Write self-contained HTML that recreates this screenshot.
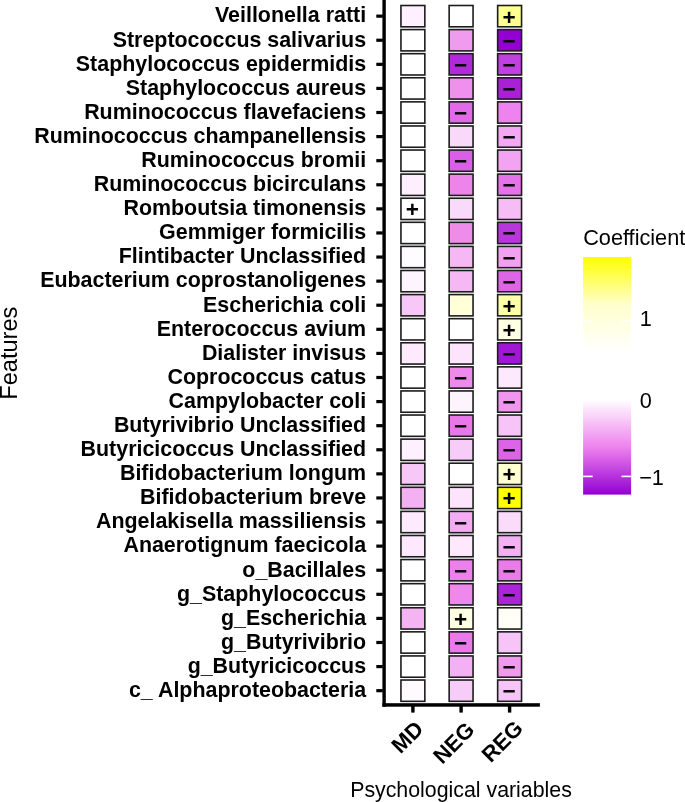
<!DOCTYPE html>
<html lang="en"><head><meta charset="utf-8"><title>Coefficient heatmap</title>
<style>html,body{margin:0;padding:0;background:#fff;overflow:hidden}svg{display:block}text{font-family:"Liberation Sans",Arial,Helvetica,sans-serif;fill:#000}.b{font-weight:bold}</style></head><body>
<svg width="685" height="802" viewBox="0 0 685 802">
<defs><linearGradient id="lg" x1="0" y1="0" x2="0" y2="1">
<stop offset="0" stop-color="#FFFF00"/>
<stop offset="0.2" stop-color="#FFFFCC"/>
<stop offset="0.4" stop-color="#FFFFFF"/>
<stop offset="0.6" stop-color="#FFFFFF"/>
<stop offset="0.8" stop-color="#EE82EE"/>
<stop offset="1" stop-color="#9400D3"/>
</linearGradient></defs>
<rect width="685" height="802" fill="#fff"/>
<g stroke="#1c1c1c" stroke-width="1.6">
<rect x="400.95" y="5.50" width="23.90" height="21.30" fill="#FEF0FE"/>
<rect x="449.15" y="5.50" width="23.90" height="21.30" fill="#FFFFFF"/>
<rect x="497.65" y="5.50" width="23.90" height="21.30" fill="#FFFF90"/>
<rect x="400.95" y="29.59" width="23.90" height="21.30" fill="#FFFFFF"/>
<rect x="449.15" y="29.59" width="23.90" height="21.30" fill="#F09AF0"/>
<rect x="497.65" y="29.59" width="23.90" height="21.30" fill="#9400D3"/>
<rect x="400.95" y="53.68" width="23.90" height="21.30" fill="#FFFFFF"/>
<rect x="449.15" y="53.68" width="23.90" height="21.30" fill="#B02ADB"/>
<rect x="497.65" y="53.68" width="23.90" height="21.30" fill="#C040E0"/>
<rect x="400.95" y="77.77" width="23.90" height="21.30" fill="#FFFFFF"/>
<rect x="449.15" y="77.77" width="23.90" height="21.30" fill="#F090EE"/>
<rect x="497.65" y="77.77" width="23.90" height="21.30" fill="#AA20D8"/>
<rect x="400.95" y="101.86" width="23.90" height="21.30" fill="#FFFFFF"/>
<rect x="449.15" y="101.86" width="23.90" height="21.30" fill="#E06AE8"/>
<rect x="497.65" y="101.86" width="23.90" height="21.30" fill="#EE82EE"/>
<rect x="400.95" y="125.95" width="23.90" height="21.30" fill="#FFFFFF"/>
<rect x="449.15" y="125.95" width="23.90" height="21.30" fill="#F9D8F9"/>
<rect x="497.65" y="125.95" width="23.90" height="21.30" fill="#F4A8F4"/>
<rect x="400.95" y="150.04" width="23.90" height="21.30" fill="#FFFFFF"/>
<rect x="449.15" y="150.04" width="23.90" height="21.30" fill="#D960E6"/>
<rect x="497.65" y="150.04" width="23.90" height="21.30" fill="#F2A4F2"/>
<rect x="400.95" y="174.13" width="23.90" height="21.30" fill="#FDEFFD"/>
<rect x="449.15" y="174.13" width="23.90" height="21.30" fill="#EC84EC"/>
<rect x="497.65" y="174.13" width="23.90" height="21.30" fill="#E672EA"/>
<rect x="400.95" y="198.22" width="23.90" height="21.30" fill="#FFFFFF"/>
<rect x="449.15" y="198.22" width="23.90" height="21.30" fill="#FADAFA"/>
<rect x="497.65" y="198.22" width="23.90" height="21.30" fill="#F5BCF5"/>
<rect x="400.95" y="222.31" width="23.90" height="21.30" fill="#FFFFFF"/>
<rect x="449.15" y="222.31" width="23.90" height="21.30" fill="#EE8CEC"/>
<rect x="497.65" y="222.31" width="23.90" height="21.30" fill="#B836DC"/>
<rect x="400.95" y="246.40" width="23.90" height="21.30" fill="#FEFCFE"/>
<rect x="449.15" y="246.40" width="23.90" height="21.30" fill="#F5B8F5"/>
<rect x="497.65" y="246.40" width="23.90" height="21.30" fill="#F2A0F0"/>
<rect x="400.95" y="270.49" width="23.90" height="21.30" fill="#FEF4FE"/>
<rect x="449.15" y="270.49" width="23.90" height="21.30" fill="#F5B8F5"/>
<rect x="497.65" y="270.49" width="23.90" height="21.30" fill="#DD66E6"/>
<rect x="400.95" y="294.58" width="23.90" height="21.30" fill="#F7C8F7"/>
<rect x="449.15" y="294.58" width="23.90" height="21.30" fill="#FFFFD8"/>
<rect x="497.65" y="294.58" width="23.90" height="21.30" fill="#FFFFA8"/>
<rect x="400.95" y="318.67" width="23.90" height="21.30" fill="#FFFFFF"/>
<rect x="449.15" y="318.67" width="23.90" height="21.30" fill="#FFFFFF"/>
<rect x="497.65" y="318.67" width="23.90" height="21.30" fill="#FFFFE4"/>
<rect x="400.95" y="342.76" width="23.90" height="21.30" fill="#FDEAFD"/>
<rect x="449.15" y="342.76" width="23.90" height="21.30" fill="#FCE4FC"/>
<rect x="497.65" y="342.76" width="23.90" height="21.30" fill="#A018D6"/>
<rect x="400.95" y="366.85" width="23.90" height="21.30" fill="#FFFFFF"/>
<rect x="449.15" y="366.85" width="23.90" height="21.30" fill="#EE8AEC"/>
<rect x="497.65" y="366.85" width="23.90" height="21.30" fill="#FCEAFC"/>
<rect x="400.95" y="390.94" width="23.90" height="21.30" fill="#FFFFFF"/>
<rect x="449.15" y="390.94" width="23.90" height="21.30" fill="#FEF4FE"/>
<rect x="497.65" y="390.94" width="23.90" height="21.30" fill="#F096EE"/>
<rect x="400.95" y="415.03" width="23.90" height="21.30" fill="#FFFFFF"/>
<rect x="449.15" y="415.03" width="23.90" height="21.30" fill="#E878EA"/>
<rect x="497.65" y="415.03" width="23.90" height="21.30" fill="#F7C4F7"/>
<rect x="400.95" y="439.12" width="23.90" height="21.30" fill="#FEF0FE"/>
<rect x="449.15" y="439.12" width="23.90" height="21.30" fill="#F8CCF8"/>
<rect x="497.65" y="439.12" width="23.90" height="21.30" fill="#DC64E6"/>
<rect x="400.95" y="463.21" width="23.90" height="21.30" fill="#F7C8F7"/>
<rect x="449.15" y="463.21" width="23.90" height="21.30" fill="#FFFFFF"/>
<rect x="497.65" y="463.21" width="23.90" height="21.30" fill="#FFFFCF"/>
<rect x="400.95" y="487.30" width="23.90" height="21.30" fill="#F3B0F3"/>
<rect x="449.15" y="487.30" width="23.90" height="21.30" fill="#FCE4FC"/>
<rect x="497.65" y="487.30" width="23.90" height="21.30" fill="#FFFF00"/>
<rect x="400.95" y="511.39" width="23.90" height="21.30" fill="#FDEAFD"/>
<rect x="449.15" y="511.39" width="23.90" height="21.30" fill="#F3ACF3"/>
<rect x="497.65" y="511.39" width="23.90" height="21.30" fill="#FADCFA"/>
<rect x="400.95" y="535.48" width="23.90" height="21.30" fill="#FDE8FD"/>
<rect x="449.15" y="535.48" width="23.90" height="21.30" fill="#FDE8FD"/>
<rect x="497.65" y="535.48" width="23.90" height="21.30" fill="#F3B0F3"/>
<rect x="400.95" y="559.57" width="23.90" height="21.30" fill="#FFFFFF"/>
<rect x="449.15" y="559.57" width="23.90" height="21.30" fill="#EC80EC"/>
<rect x="497.65" y="559.57" width="23.90" height="21.30" fill="#EA7CEA"/>
<rect x="400.95" y="583.66" width="23.90" height="21.30" fill="#FFFFFF"/>
<rect x="449.15" y="583.66" width="23.90" height="21.30" fill="#EE88EC"/>
<rect x="497.65" y="583.66" width="23.90" height="21.30" fill="#AC24DA"/>
<rect x="400.95" y="607.75" width="23.90" height="21.30" fill="#F4B4F4"/>
<rect x="449.15" y="607.75" width="23.90" height="21.30" fill="#FFFFE2"/>
<rect x="497.65" y="607.75" width="23.90" height="21.30" fill="#FFFFF8"/>
<rect x="400.95" y="631.84" width="23.90" height="21.30" fill="#FFFFFF"/>
<rect x="449.15" y="631.84" width="23.90" height="21.30" fill="#EA7AEA"/>
<rect x="497.65" y="631.84" width="23.90" height="21.30" fill="#F7C4F7"/>
<rect x="400.95" y="655.93" width="23.90" height="21.30" fill="#FFFFFF"/>
<rect x="449.15" y="655.93" width="23.90" height="21.30" fill="#F4B0F4"/>
<rect x="497.65" y="655.93" width="23.90" height="21.30" fill="#F09AEE"/>
<rect x="400.95" y="680.02" width="23.90" height="21.30" fill="#FEFAFE"/>
<rect x="449.15" y="680.02" width="23.90" height="21.30" fill="#F8CCF8"/>
<rect x="497.65" y="680.02" width="23.90" height="21.30" fill="#F7C4F7"/>
</g>
<g class="b" font-size="22.6" text-anchor="middle">
<text x="509.10" y="24.65">+</text>
<text x="509.10" y="48.74">−</text>
<text x="460.60" y="72.83">−</text>
<text x="509.10" y="72.83">−</text>
<text x="509.10" y="96.92">−</text>
<text x="460.60" y="121.01">−</text>
<text x="509.10" y="145.10">−</text>
<text x="460.60" y="169.19">−</text>
<text x="509.10" y="193.28">−</text>
<text x="412.40" y="217.37">+</text>
<text x="509.10" y="241.46">−</text>
<text x="509.10" y="265.55">−</text>
<text x="509.10" y="289.64">−</text>
<text x="509.10" y="313.73">+</text>
<text x="509.10" y="337.82">+</text>
<text x="509.10" y="361.91">−</text>
<text x="460.60" y="386.00">−</text>
<text x="509.10" y="410.09">−</text>
<text x="460.60" y="434.18">−</text>
<text x="509.10" y="458.27">−</text>
<text x="509.10" y="482.36">+</text>
<text x="509.10" y="506.45">+</text>
<text x="460.60" y="530.54">−</text>
<text x="509.10" y="554.63">−</text>
<text x="460.60" y="578.72">−</text>
<text x="509.10" y="578.72">−</text>
<text x="509.10" y="602.81">−</text>
<text x="460.60" y="626.90">+</text>
<text x="460.60" y="650.99">−</text>
<text x="509.10" y="675.08">−</text>
<text x="509.10" y="699.17">−</text>
</g>
<g fill="#000">
<rect x="382.4" y="0" width="3.4" height="706.7"/>
<rect x="382.4" y="703.2" width="157.5" height="3.5"/>
<rect x="376.3" y="14.55" width="6.5" height="3.2"/>
<rect x="376.3" y="38.64" width="6.5" height="3.2"/>
<rect x="376.3" y="62.73" width="6.5" height="3.2"/>
<rect x="376.3" y="86.82" width="6.5" height="3.2"/>
<rect x="376.3" y="110.91" width="6.5" height="3.2"/>
<rect x="376.3" y="135.00" width="6.5" height="3.2"/>
<rect x="376.3" y="159.09" width="6.5" height="3.2"/>
<rect x="376.3" y="183.18" width="6.5" height="3.2"/>
<rect x="376.3" y="207.27" width="6.5" height="3.2"/>
<rect x="376.3" y="231.36" width="6.5" height="3.2"/>
<rect x="376.3" y="255.45" width="6.5" height="3.2"/>
<rect x="376.3" y="279.54" width="6.5" height="3.2"/>
<rect x="376.3" y="303.63" width="6.5" height="3.2"/>
<rect x="376.3" y="327.72" width="6.5" height="3.2"/>
<rect x="376.3" y="351.81" width="6.5" height="3.2"/>
<rect x="376.3" y="375.90" width="6.5" height="3.2"/>
<rect x="376.3" y="399.99" width="6.5" height="3.2"/>
<rect x="376.3" y="424.08" width="6.5" height="3.2"/>
<rect x="376.3" y="448.17" width="6.5" height="3.2"/>
<rect x="376.3" y="472.26" width="6.5" height="3.2"/>
<rect x="376.3" y="496.35" width="6.5" height="3.2"/>
<rect x="376.3" y="520.44" width="6.5" height="3.2"/>
<rect x="376.3" y="544.53" width="6.5" height="3.2"/>
<rect x="376.3" y="568.62" width="6.5" height="3.2"/>
<rect x="376.3" y="592.71" width="6.5" height="3.2"/>
<rect x="376.3" y="616.80" width="6.5" height="3.2"/>
<rect x="376.3" y="640.89" width="6.5" height="3.2"/>
<rect x="376.3" y="664.98" width="6.5" height="3.2"/>
<rect x="376.3" y="689.07" width="6.5" height="3.2"/>
<rect x="411.20" y="706" width="3.4" height="6.6"/>
<rect x="459.40" y="706" width="3.4" height="6.6"/>
<rect x="507.90" y="706" width="3.4" height="6.6"/>
</g>
<g class="b" font-size="21.42" text-anchor="end">
<text x="366.1" y="22.45">Veillonella ratti</text>
<text x="366.1" y="46.54">Streptococcus salivarius</text>
<text x="366.1" y="70.63">Staphylococcus epidermidis</text>
<text x="366.1" y="94.72">Staphylococcus aureus</text>
<text x="366.1" y="118.81">Ruminococcus flavefaciens</text>
<text x="366.1" y="142.90">Ruminococcus champanellensis</text>
<text x="366.1" y="166.99">Ruminococcus bromii</text>
<text x="366.1" y="191.08">Ruminococcus bicirculans</text>
<text x="366.1" y="215.17">Romboutsia timonensis</text>
<text x="366.1" y="239.26">Gemmiger formicilis</text>
<text x="366.1" y="263.35">Flintibacter Unclassified</text>
<text x="366.1" y="287.44">Eubacterium coprostanoligenes</text>
<text x="366.1" y="311.53">Escherichia coli</text>
<text x="366.1" y="335.62">Enterococcus avium</text>
<text x="366.1" y="359.71">Dialister invisus</text>
<text x="366.1" y="383.80">Coprococcus catus</text>
<text x="366.1" y="407.89">Campylobacter coli</text>
<text x="366.1" y="431.98">Butyrivibrio Unclassified</text>
<text x="366.1" y="456.07">Butyricicoccus Unclassified</text>
<text x="366.1" y="480.16">Bifidobacterium longum</text>
<text x="366.1" y="504.25">Bifidobacterium breve</text>
<text x="366.1" y="528.34">Angelakisella massiliensis</text>
<text x="366.1" y="552.43">Anaerotignum faecicola</text>
<text x="366.1" y="576.52">o_Bacillales</text>
<text x="366.1" y="600.61">g_Staphylococcus</text>
<text x="366.1" y="624.70">g_Escherichia</text>
<text x="366.1" y="648.79">g_Butyrivibrio</text>
<text x="366.1" y="672.88">g_Butyricicoccus</text>
<text x="366.1" y="696.97">c_ Alphaproteobacteria</text>
</g>
<text class="b" font-size="22" text-anchor="end" transform="translate(414.90,720.30) rotate(-45)" y="14">MD</text>
<text class="b" font-size="22" text-anchor="end" transform="translate(466.00,721.30) rotate(-45)" y="14">NEG</text>
<text class="b" font-size="22" text-anchor="end" transform="translate(514.50,719.80) rotate(-45)" y="14">REG</text>
<text font-size="21.33" text-anchor="middle" x="461.0" y="796.5">Psychological variables</text>
<text font-size="24" text-anchor="middle" transform="translate(17.3,353.2) rotate(-90) scale(0.984,1)">Features</text>
<text font-size="21.7" x="583.2" y="245.2">Coefficient</text>
<rect x="583.1" y="257" width="48" height="237.6" fill="url(#lg)"/>
<g stroke="#fff" stroke-width="1.6">
<line x1="583.1" x2="592.7" y1="321.2" y2="321.2"/><line x1="621.5" x2="631.1" y1="321.2" y2="321.2"/>
<line x1="583.1" x2="592.7" y1="398.8" y2="398.8"/><line x1="621.5" x2="631.1" y1="398.8" y2="398.8"/>
<line x1="583.1" x2="592.7" y1="476.4" y2="476.4"/><line x1="621.5" x2="631.1" y1="476.4" y2="476.4"/>
</g>
<g font-size="21.7">
<text x="639.8" y="325.6">1</text>
<text x="639.7" y="408.4">0</text>
<text x="639.2" y="485.3">−1</text>
</g>
</svg></body></html>
